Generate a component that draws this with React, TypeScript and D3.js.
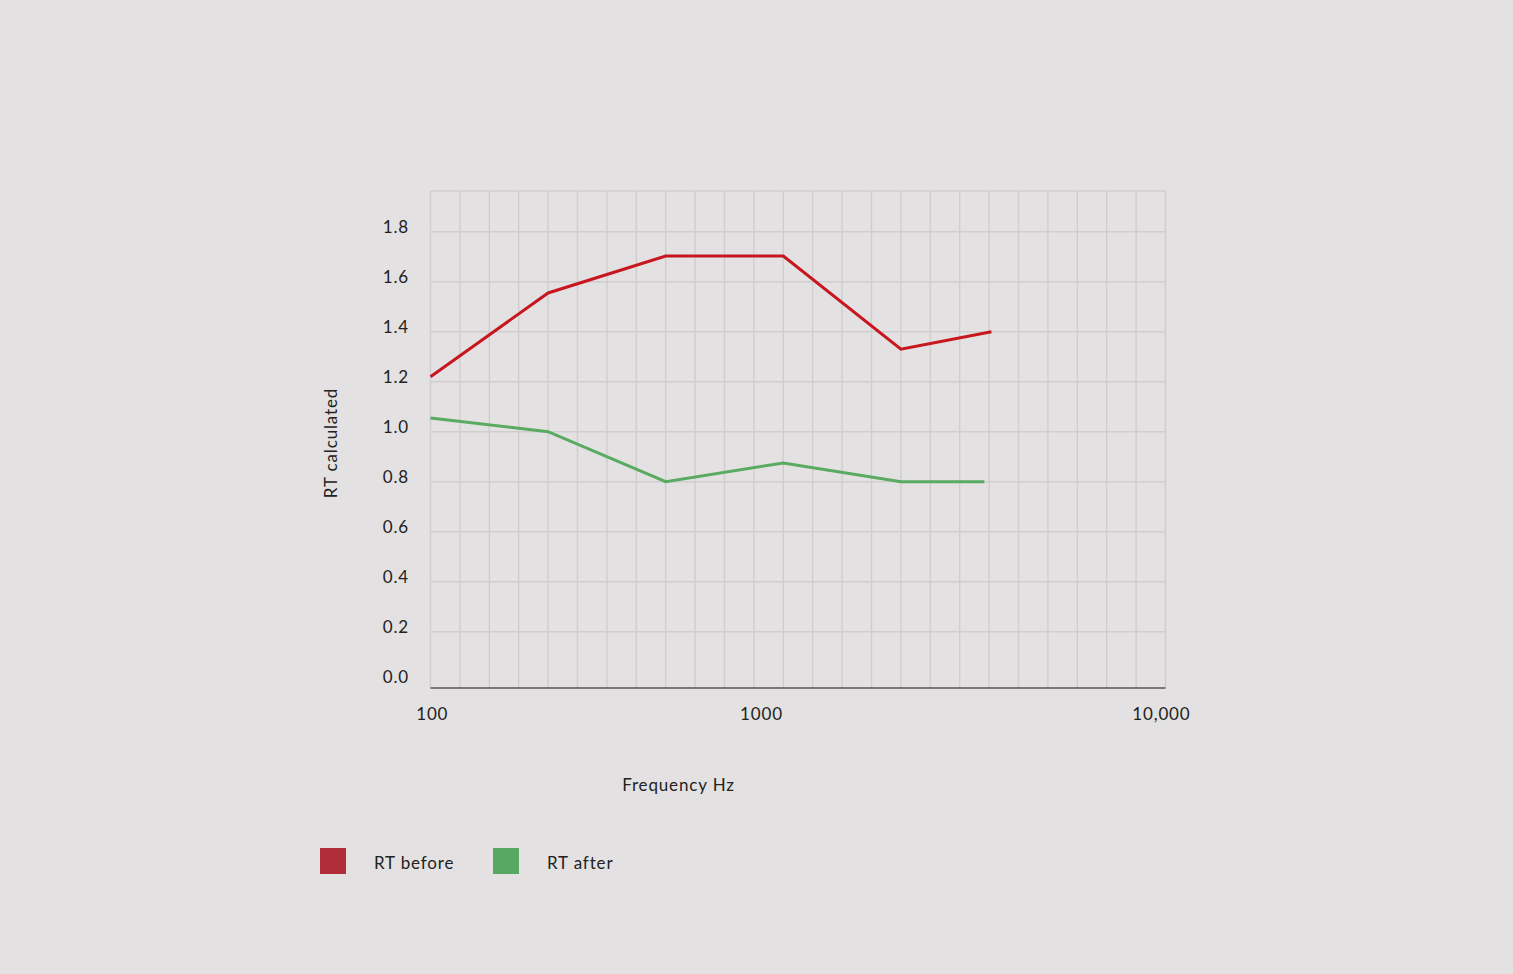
import React from "react";
import * as d3 from "d3";

// Data (x in grid units: 25 equal grid steps across the plot)
const rtBeforeX = [0, 4, 8, 12, 16, 19.08];
const rtBeforeY = [1.22, 1.555, 1.703, 1.703, 1.33, 1.4];
const rtAfterX = [0, 4, 8, 12, 16, 18.84];
const rtAfterY = [1.055, 1.0, 0.8, 0.875, 0.8, 0.8];
const yTicks = [0, 0.2, 0.4, 0.6, 0.8, 1.0, 1.2, 1.4, 1.6, 1.8];
const xTickLabels = ["100", "1000", "10,000"];
const xTickPos = [0.06, 11.26, 24.86];
const xGridCount = 25;

const W = 1513;
const H = 974;
const FONT = "Lato, 'Open Sans', 'DejaVu Sans', sans-serif";
const LS = 0.85;

export default function App() {
  const x = d3.scaleLinear().domain([0, xGridCount]).range([430.5, 1165.5]);
  const y = d3.scaleLinear().domain([0, 1.8]).range([681.7, 231.7]);
  const top = 191;
  const bottom = 688;

  const line = d3
    .line<[number, number]>()
    .x((d) => x(d[0]))
    .y((d) => y(d[1]));

  const before: [number, number][] = rtBeforeX.map((v, i) => [v, rtBeforeY[i]]);
  const after: [number, number][] = rtAfterX.map((v, i) => [v, rtAfterY[i]]);

  const grid = d3.range(0, xGridCount + 1);

  return (
    <svg
      width={W}
      height={H}
      style={{ position: "absolute", left: 0, top: 0, background: "#e3e1e2" }}
      fontFamily={FONT}
      letterSpacing={LS}
    >
      <rect x={0} y={0} width={W} height={H} fill="#e3e1e2" />
      {/* vertical grid */}
      {grid.map((g) => (
        <line
          key={"vx" + g}
          x1={x(g)}
          x2={x(g)}
          y1={top}
          y2={bottom}
          stroke="#cfcdce"
          strokeWidth={1.4}
        />
      ))}
      {/* top border */}
      <line x1={x(0)} x2={x(xGridCount)} y1={top} y2={top} stroke="#cfcdce" strokeWidth={1.4} />
      {/* horizontal grid */}
      {yTicks
        .filter((t) => t > 0)
        .map((t) => (
          <line
            key={"hy" + t}
            x1={x(0)}
            x2={x(xGridCount)}
            y1={y(t)}
            y2={y(t)}
            stroke="#cfcdce"
            strokeWidth={1.4}
          />
        ))}
      {/* bottom axis */}
      <line x1={x(0)} x2={x(xGridCount)} y1={bottom} y2={bottom} stroke="#555" strokeWidth={1.6} />
      {/* y tick labels */}
      {yTicks.map((t) => (
        <text
          key={"yl" + t}
          x={409}
          y={y(t) - 5}
          textAnchor="end"
          dominantBaseline="central"
          fontSize={17}
          fill="#222"
        >
          {t.toFixed(1)}
        </text>
      ))}
      {/* x tick labels */}
      {xTickLabels.map((l, i) => (
        <text
          key={"xl" + l}
          x={x(xTickPos[i])}
          y={720}
          textAnchor="middle"
          fontSize={17}
          fill="#222"
        >
          {l}
        </text>
      ))}
      {/* axis titles */}
      <text x={678.5} y={791} textAnchor="middle" fontSize={17} fill="#222">
        Frequency Hz
      </text>
      <text
        transform="translate(337,443) rotate(-90)"
        textAnchor="middle"
        fontSize={17}
        fill="#222"
      >
        RT calculated
      </text>
      {/* lines */}
      <path d={line(after) || ""} fill="none" stroke="#5aab62" strokeWidth={3} />
      <path d={line(before) || ""} fill="none" stroke="#c8161e" strokeWidth={3} />
      {/* legend */}
      <rect x={320} y={848} width={26} height={26} fill="#b22d3a" />
      <text x={374} y={869} fontSize={17} fill="#222">
        RT before
      </text>
      <rect x={493} y={848} width={26} height={26} fill="#57a862" />
      <text x={547} y={869} fontSize={17} fill="#222">
        RT after
      </text>
    </svg>
  );
}
